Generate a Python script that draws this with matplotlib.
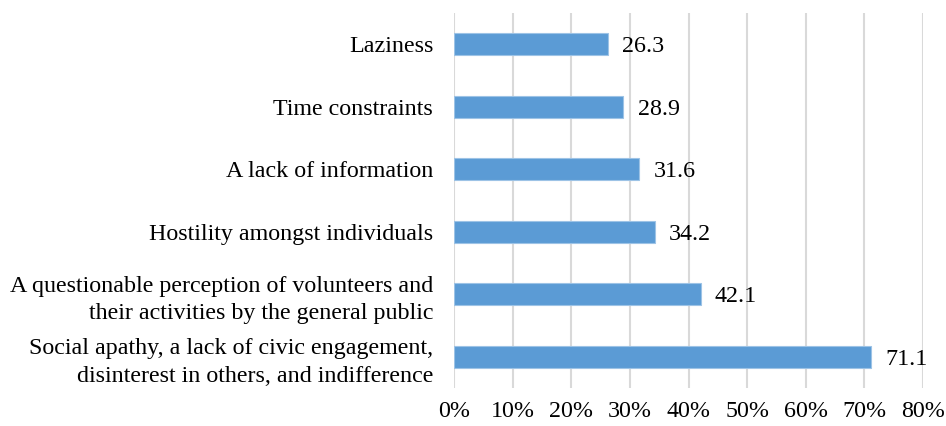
import matplotlib.pyplot as plt

categories = [
    "Social apathy, a lack of civic engagement,\ndisinterest in others, and indifference",
    "A questionable perception of volunteers and\ntheir activities by the general public",
    "Hostility amongst individuals",
    "A lack of information",
    "Time constraints",
    "Laziness",
]
values = [71.1, 42.1, 34.2, 31.6, 28.9, 26.3]
x_ticks = [0, 10, 20, 30, 40, 50, 60, 70, 80]

plt.rcParams['font.family'] = ['Liberation Serif', 'DejaVu Serif']

fig = plt.figure(figsize=(9.46, 4.26), dpi=100)
ax = fig.add_axes([0.48, 0.089, 0.4957, 0.881])

ypos = list(range(len(categories)))
ax.barh(ypos, values, height=0.35, color='#5B9BD5', edgecolor='#9DC3E6',
        linewidth=0.8, zorder=3)
for y, v in zip(ypos, values):
    ax.text(v + 2.4, y, f"{v:.1f}", va='center_baseline', ha='left', fontsize=17.3)

ax.set_xlim(0, 80)
ax.set_ylim(-0.5, len(categories) - 0.5)
ax.set_xticks(x_ticks)
ax.set_xticklabels([f"{t}%" for t in x_ticks], fontsize=17.3)
ax.set_yticks(ypos)
ax.set_yticklabels(categories, fontsize=17.3, linespacing=1.4)
ax.tick_params(axis='both', length=0)
ax.tick_params(axis='x', pad=9)
ax.tick_params(axis='y', pad=15)
ax.xaxis.grid(True, color='#D9D9D9', linewidth=1.5, zorder=0)
for s in ax.spines.values():
    s.set_visible(False)

fig.savefig('out.png', dpi=100)
